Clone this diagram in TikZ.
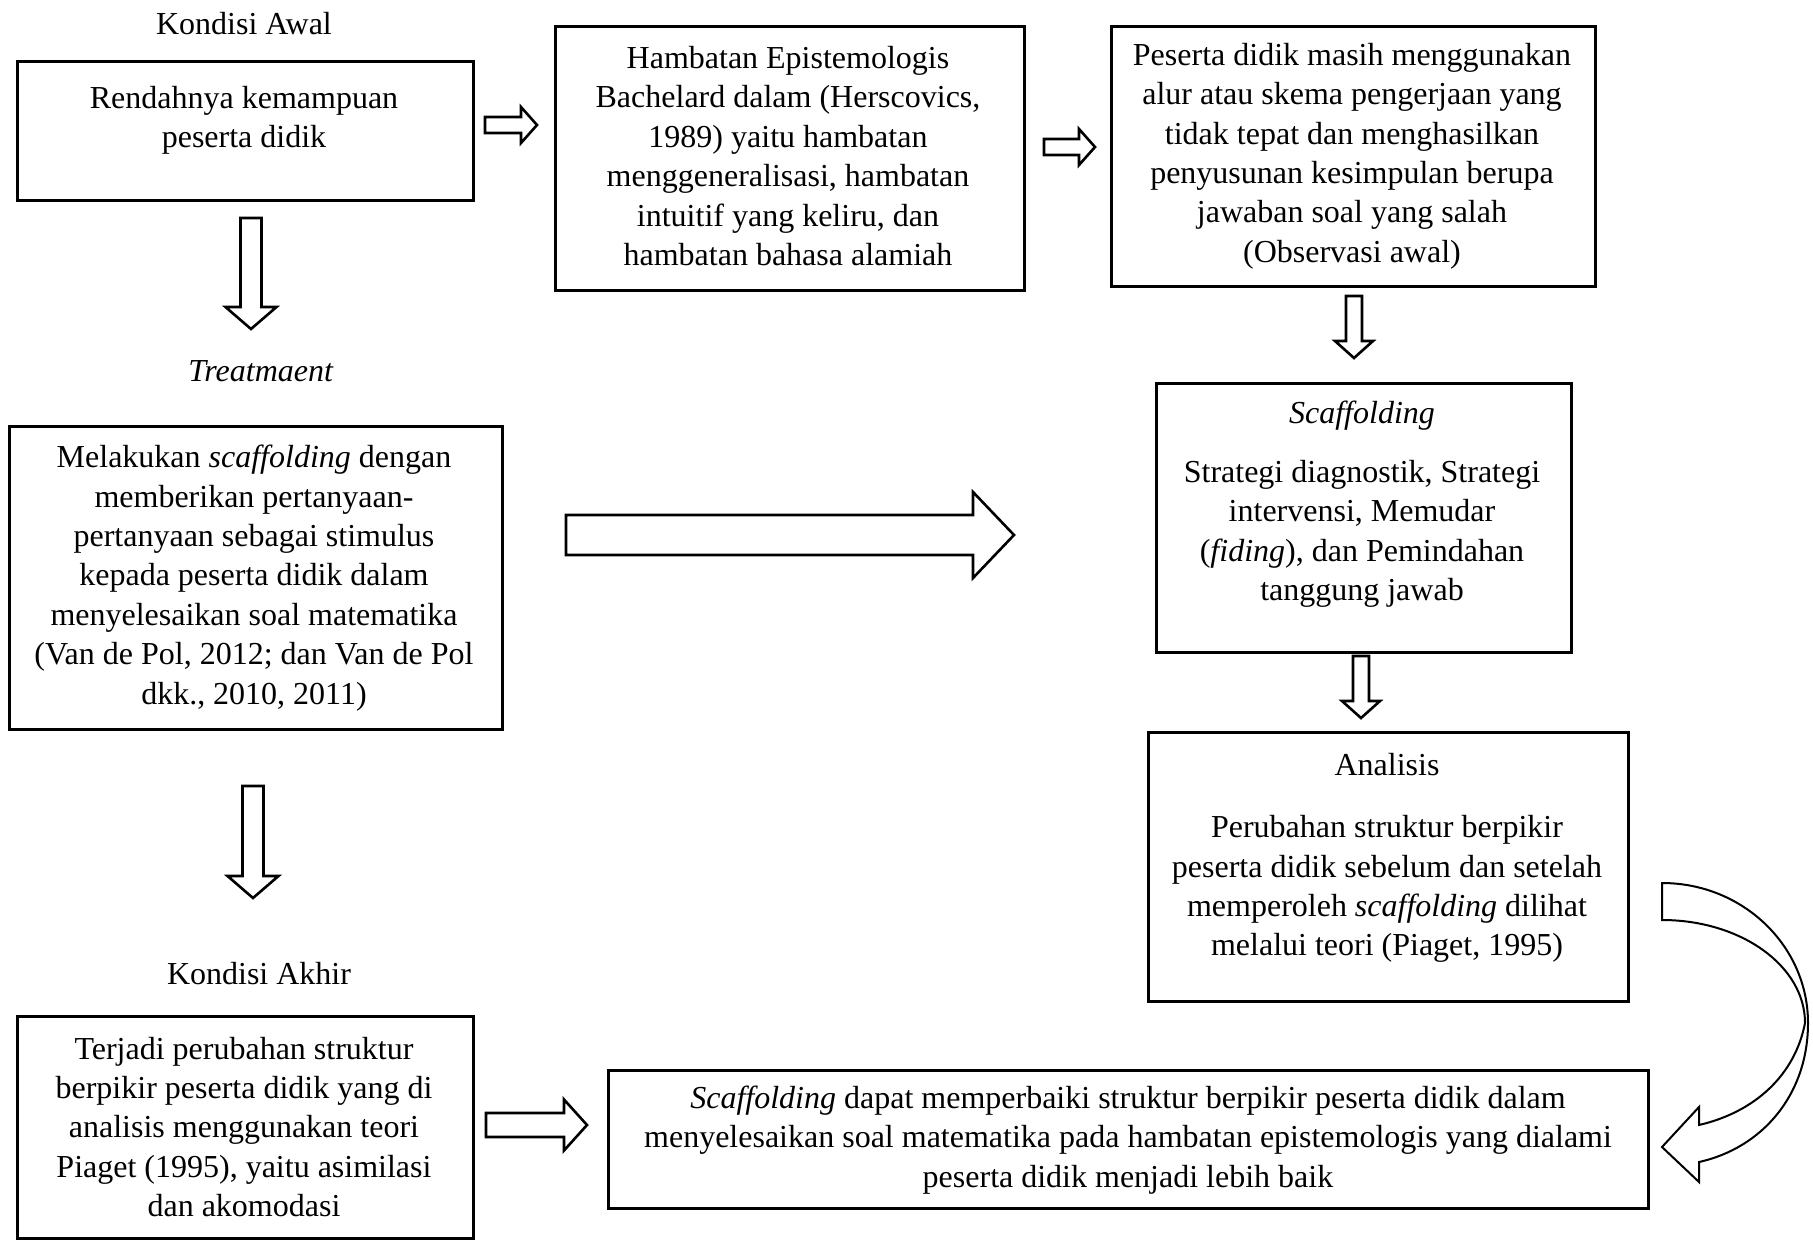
\documentclass[tikz,border=0pt]{standalone}
\usepackage{fontspec}
\setmainfont{Liberation Serif}
\usetikzlibrary{positioning}

% block arrow pointing right: tail x, tip x, centre y, shaft half, head half, head length
\newcommand\rightblock[6]{%
  \draw[blockarr] (#1,#3-#4) -- (#2-#6,#3-#4) -- (#2-#6,#3-#5) -- (#2,#3)
    -- (#2-#6,#3+#5) -- (#2-#6,#3+#4) -- (#1,#3+#4) -- cycle;}
% block arrow pointing down: centre x, top y, tip y, shaft half, head half, head length
\newcommand\downblock[6]{%
  \draw[blockarr] (#1-#4,#2) -- (#1-#4,#3-#6) -- (#1-#5,#3-#6) -- (#1,#3)
    -- (#1+#5,#3-#6) -- (#1+#4,#3-#6) -- (#1+#4,#2) -- cycle;}

\begin{document}
\begin{tikzpicture}[x=1pt,y=-1pt,
  box/.style={draw, line width=3.3pt, anchor=north west, inner sep=0pt},
  txt/.style={align=center, inner sep=0pt, font=\fontsize{32}{39.4}\selectfont},
  blockarr/.style={draw, line width=2.6pt, fill=white, line join=miter},
  curvearr/.style={draw, line width=2pt, fill=white, line join=miter}]

\useasboundingbox (0,0) rectangle (1813,1240);

% boxes
\node[box, minimum width=456pt, minimum height=139pt] (a) at (16,60) {};
\node[box, minimum width=469pt, minimum height=264pt] (b) at (554,25) {};
\node[box, minimum width=484pt, minimum height=260pt] (c) at (1110,25) {};
\node[box, minimum width=493pt, minimum height=303pt] (d) at (8,425) {};
\node[box, minimum width=415pt, minimum height=269pt] (g) at (1155,382) {};
\node[box, minimum width=480pt, minimum height=269pt] (h) at (1147,731) {};
\node[box, minimum width=456pt, minimum height=222pt] (e) at (16,1015) {};
\node[box, minimum width=1040pt, minimum height=138pt] (f) at (607,1069) {};

% headings
\node[txt] (lawal) at (244,24) {Kondisi Awal};
\node[txt] (ltreat) at (261,371) {\textit{Treatmaent}};
\node[txt] (lakhir) at (259,974) {Kondisi Akhir};

% box texts
\node[txt] (ta) at (244,120) {Rendahnya kemampuan\\peserta didik};
\node[txt] (tb) at (788,156) {Hambatan Epistemologis\\Bachelard dalam (Herscovics,\\1989) yaitu hambatan\\menggeneralisasi, hambatan\\intuitif yang keliru, dan\\hambatan bahasa alamiah};
\node[txt] (tc) at (1352,156) {Peserta didik masih menggunakan\\alur atau skema pengerjaan yang\\tidak tepat dan menghasilkan\\penyusunan kesimpulan berupa\\jawaban soal yang salah\\(Observasi awal)};
\node[txt] (td) at (254,578) {Melakukan \textit{scaffolding} dengan\\memberikan pertanyaan-\\pertanyaan sebagai stimulus\\kepada peserta didik dalam\\menyelesaikan soal matematika\\(Van de Pol, 2012; dan Van de Pol\\dkk., 2010, 2011)};
\node[txt] (tg) at (1362,504) {\textit{Scaffolding}\\[20pt]Strategi diagnostik, Strategi\\intervensi, Memudar\\(\textit{fiding}), dan Pemindahan\\tanggung jawab};
\node[txt] (th) at (1387,858) {Analisis\\[23pt]Perubahan struktur berpikir\\peserta didik sebelum dan setelah\\memperoleh \textit{scaffolding} dilihat\\melalui teori (Piaget, 1995)};
\node[txt] (te) at (244,1127) {Terjadi perubahan struktur\\berpikir peserta didik yang di\\analisis menggunakan teori\\Piaget (1995), yaitu asimilasi\\dan akomodasi};
\node[txt] (tf) at (1128,1140) {\textit{Scaffolding} dapat memperbaiki struktur berpikir peserta didik dalam\\menyelesaikan soal matematika pada hambatan epistemologis yang dialami\\peserta didik menjadi lebih baik};

% straight block arrows
\rightblock{485}{537}{125}{8}{18}{16}
\rightblock{1044}{1095}{147}{8}{18}{16}
\rightblock{566}{1014}{535}{20}{43}{41}
\rightblock{486}{587}{1125}{12}{25.5}{23}
\downblock{251}{218}{329}{10.5}{25.5}{22}
\downblock{253}{786}{898}{10.5}{25.5}{22}
\downblock{1354}{296}{358}{8}{19}{17}
\downblock{1361}{656}{718}{8}{19}{17}

% curved block arrow from Analisis down to the final box
\draw[curvearr] (1662,883) .. controls (1743,883) and (1808,946) .. (1808,1023)
  .. controls (1808,1095) and (1762,1148) .. (1699,1162)
  -- (1699,1182) -- (1662,1147) -- (1699,1107) -- (1699,1125)
  .. controls (1755,1112) and (1795,1075) .. (1805,1023)
  .. controls (1805,966) and (1741,920) .. (1662,920) -- cycle;
\end{tikzpicture}
\end{document}
